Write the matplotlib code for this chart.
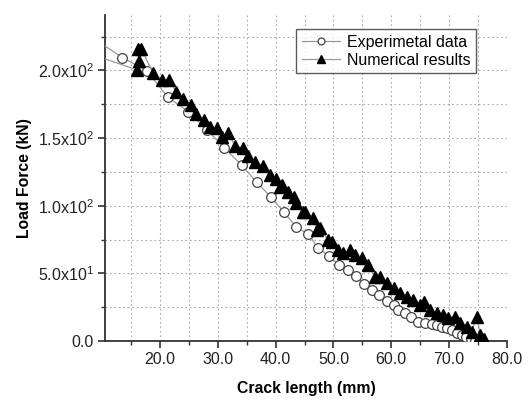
import matplotlib
matplotlib.use("Agg")
import matplotlib.pyplot as plt
from matplotlib.ticker import MultipleLocator, FuncFormatter

plt.rcParams.update({
    "font.family": ["Liberation Sans", "DejaVu Sans"],
    "font.size": 11.5,
    "mathtext.fontset": "custom",
    "mathtext.rm": "Liberation Sans",
})

# experimental curve (first point is only part of the line, no marker)
exp_x = [10.5, 13.5, 17.7, 21.4, 24.9, 28.1, 31.1, 34.1, 36.7, 39.2, 41.5, 43.6,
         45.6, 47.4, 49.2, 51.0, 52.6, 53.9, 55.3, 56.6, 57.9, 59.2, 60.4, 61.2,
         62.4, 63.5, 64.7, 65.8, 67.0, 67.9, 68.7, 69.6, 70.5, 71.3, 72.2, 73.0,
         73.8, 74.5]
exp_y = [218.0, 209.5, 199.7, 180.0, 169.6, 156.0, 143.0, 130.0, 117.4, 106.3, 95.0, 84.0,
         79.3, 68.5, 62.9, 56.2, 52.5, 48.0, 42.0, 37.7, 34.0, 29.8, 26.6, 23.0,
         20.5, 17.5, 14.3, 13.1, 12.6, 11.8, 10.6, 9.4, 8.1, 6.1, 4.5, 3.0,
         1.5, 0.3]

# numerical results (first point is only part of the line, no marker)
num_x = [10.5, 16.0, 16.4, 16.2, 16.8, 18.8, 20.3, 21.6, 22.8, 23.9, 25.3, 26.3,
         27.6, 28.7, 29.8, 30.7, 31.8, 33.0, 34.3, 35.3, 36.4, 37.8, 39.0, 40.1,
         40.8, 41.1, 42.2, 43.1, 43.6, 44.8, 45.1, 46.5, 47.1, 47.7, 49.1, 49.7,
         50.8, 51.7, 52.9, 53.7, 54.9, 56.0, 57.2, 58.1, 59.2, 60.4, 61.5, 62.7,
         63.8, 65.0, 65.6, 66.7, 67.9, 69.0, 69.9, 71.0, 71.9, 73.1, 73.9, 74.8,
         75.4, 76.0]
num_y = [208.5, 200.4, 206.6, 215.7, 215.7, 198.0, 193.0, 193.0, 184.0, 178.8, 174.6, 167.7,
         163.0, 158.0, 157.2, 151.0, 153.6, 144.0, 143.0, 137.0, 132.6, 129.0, 122.8, 119.6,
         114.0, 115.4, 110.4, 106.7, 101.8, 95.6, 95.6, 90.7, 82.0, 83.3, 74.7, 73.4,
         67.3, 64.8, 67.3, 63.6, 61.1, 56.2, 47.6, 47.6, 42.6, 39.0, 35.2, 32.8,
         30.3, 26.6, 29.1, 22.9, 20.5, 19.2, 16.8, 18.0, 13.1, 10.6, 6.9, 18.0,
         4.4, 1.2]


def y_label(v, pos):
    if v == 0:
        return "0.0"
    exp = 0
    m = v
    while m >= 10:
        m /= 10
        exp += 1
    return f"{m:.1f}x10$^{{{exp}}}$"


fig = plt.figure(figsize=(5.28, 4.04), dpi=100)
ax = fig.add_axes([0.199, 0.156, 0.761, 0.807])

ax.plot(exp_x, exp_y, color="#999999", lw=0.9, marker="o", ms=7,
        mfc="white", mec="#444444", mew=0.9, markevery=list(range(1, len(exp_x))),
        label="Experimetal data", zorder=3)
ax.plot(num_x, num_y, color="#999999", lw=0.9, marker="^", ms=9,
        mfc="black", mec="black", markevery=list(range(1, len(num_x))),
        label="Numerical results", zorder=4)

ax.set_xlim(10.5, 80)
ax.set_ylim(0, 241)
ax.xaxis.set_major_locator(MultipleLocator(10))
ax.xaxis.set_minor_locator(MultipleLocator(5))
ax.yaxis.set_major_locator(MultipleLocator(50))
ax.yaxis.set_minor_locator(MultipleLocator(25))
ax.xaxis.set_major_formatter(FuncFormatter(lambda v, p: f"{v:.1f}"))
ax.yaxis.set_major_formatter(FuncFormatter(y_label))

ax.grid(True, which="both", color="#aaaaaa", ls=(0, (1.5, 2.5)), lw=0.8)
ax.set_axisbelow(True)
for s in ["top", "right"]:
    ax.spines[s].set_visible(False)
for s in ["left", "bottom"]:
    ax.spines[s].set_linewidth(1.3)
    ax.spines[s].set_color("#333333")
ax.tick_params(which="major", direction="out", length=5, width=1.2, color="#333333",
               labelsize=11.5, labelcolor="#222222", pad=3)
ax.tick_params(which="minor", direction="out", length=3, width=1.0, color="#333333")

ax.set_xlabel("Crack length (mm)", fontsize=11.3, fontweight="bold", labelpad=10)
ax.set_ylabel("Load Force (kN)", fontsize=11.3, fontweight="bold", labelpad=4)

leg = ax.legend(loc="upper right", bbox_to_anchor=(0.923, 0.957), fontsize=11.5,
                frameon=True, fancybox=False, handlelength=2.4, handletextpad=0.4,
                borderpad=0.35, labelspacing=0.2, borderaxespad=0, markerscale=0.7)
leg.get_frame().set_edgecolor("#333333")
leg.get_frame().set_linewidth(1.0)

fig.savefig("out.png", dpi=100)
